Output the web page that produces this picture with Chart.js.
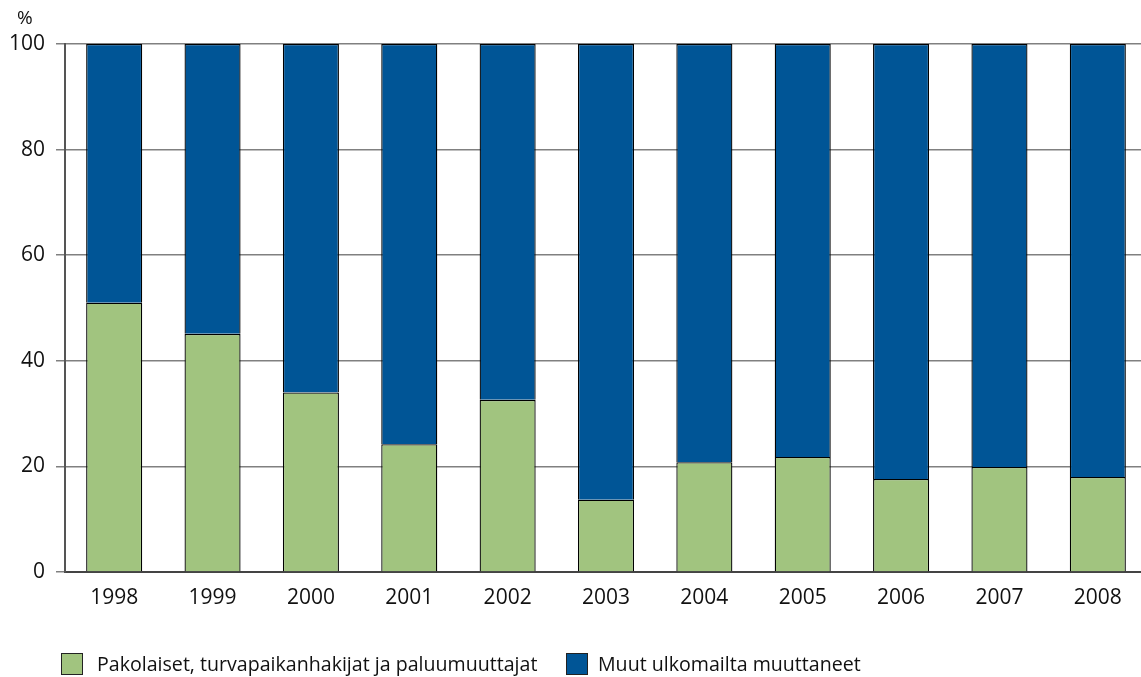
<!DOCTYPE html>
<html>
<head>
<meta charset="utf-8">
<script src="https://cdn.jsdelivr.net/npm/chart.js@4/dist/chart.umd.min.js"></script>
<style>
  body { margin:0; background:#fff; font-family:"Open Sans", sans-serif; color:#111; overflow:hidden; }
  #wrap { position:relative; width:1141px; height:677px; overflow:hidden; }
  #c { position:absolute; left:0; top:0; }
  #unit { position:absolute; left:17px; top:4px; font-size:19px; }
  .leg { position:absolute; top:653px; font-size:19.6px; line-height:22px; white-space:nowrap; }
  .box { display:inline-block; width:20px; height:20px; border:1px solid #222; vertical-align:top; margin-right:14px; }
</style>
</head>
<body>
<div id="wrap">
  <canvas id="c" width="1147" height="677"></canvas>
  <div id="unit">%</div>
  <div class="leg" style="left:61px"><span class="box" style="background:#a1c47f"></span>Pakolaiset, turvapaikanhakijat ja paluumuuttajat</div>
  <div class="leg" style="left:566px"><span class="box" style="background:#005596;margin-right:10px"></span>Muut ulkomailta muuttaneet</div>
</div>
<script>
// vuodet ja osuudet (%)
const years = ["1998","1999","2000","2001","2002","2003","2004","2005","2006","2007","2008"];
const refugees = [51, 45.1, 34, 24.2, 32.6, 13.7, 20.8, 21.8, 17.6, 19.9, 18];
const others = [49, 54.9, 66, 75.8, 67.4, 86.3, 79.2, 78.2, 82.4, 80.1, 82];
const yTicks = [0, 20, 40, 60, 80, 100];

const font = { family: "Open Sans", size: 21 };

new Chart(document.getElementById("c"), {
  type: "bar",
  data: {
    labels: years,
    datasets: [
      { label: "Pakolaiset, turvapaikanhakijat ja paluumuuttajat", data: refugees,
        backgroundColor: "#a1c47f", borderColor: "#000", borderWidth: 1.3 },
      { label: "Muut ulkomailta muuttaneet", data: others,
        backgroundColor: "#005596", borderColor: "#000", borderWidth: 1.3 }
    ]
  },
  options: {
    responsive: false,
    animation: false,
    layout: { padding: { top: 44, right: 0, bottom: 55, left: 0 } },
    plugins: { legend: { display: false }, tooltip: { enabled: false } },
    datasets: { bar: { categoryPercentage: 1, barPercentage: 0.57 } },
    scales: {
      x: {
        stacked: true,
        grid: { display: false, drawTicks: false },
        border: { display: true, color: "#444", width: 2 },
        ticks: { color: "#111", font: font, padding: 13 },
        afterFit: s => { s.height = 50; }
      },
      y: {
        stacked: true,
        min: 0, max: 100,
        afterBuildTicks: s => { s.ticks = yTicks.map(v => ({ value: v })); },
        grid: { color: "#808080", lineWidth: 1.5, tickLength: 9 },
        border: { display: true, color: "#555", width: 2 },
        ticks: { color: "#111", font: font, padding: 11 },
        afterFit: s => { s.width = 65; }
      }
    }
  }
});
</script>
</body>
</html>
